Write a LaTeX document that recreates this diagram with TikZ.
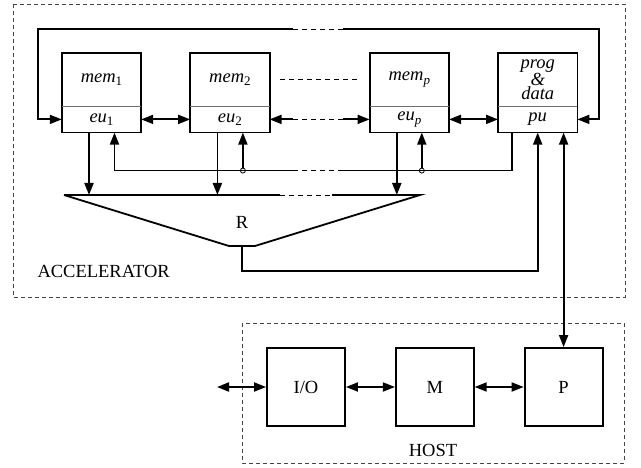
\documentclass[tikz,border=0pt]{standalone}
\usepackage{fontspec}
\setmainfont{Liberation Serif}
\usepackage{tikz}
\usetikzlibrary{arrows.meta,positioning,calc}
\definecolor{FrameGray}{RGB}{70,70,70}
\definecolor{SplitGray}{RGB}{110,110,110}

% small lowered index after an italic name
\newcommand{\lowidx}[1]{\raisebox{-0.4ex}{\fontsize{13}{13}\upshape\selectfont #1}}

\begin{document}
\begin{tikzpicture}[
  x=1pt,y=-1pt,
  font=\fontsize{18.5}{22}\selectfont,
  node distance=49pt,
  memcell/.style={
    minimum width=79pt,minimum height=53pt,inner sep=0pt,
    font=\fontsize{18.5}{13}\itshape\selectfont,align=center
  },
  eucell/.style={
    minimum width=79pt,minimum height=26pt,inner sep=0pt,
    font=\fontsize{18.5}{22}\itshape\selectfont
  },
  hostbox/.style={draw,line width=1.8pt,minimum size=78pt,inner sep=0pt},
  frame/.style={line width=1.8pt},
  split/.style={line width=0.8pt,SplitGray},
  wire/.style={line width=1.8pt},
  gapline/.style={line width=0.8pt,dash pattern=on 5pt off 4pt},
  region/.style={line width=0.8pt,FrameGray,dash pattern=on 4pt off 3pt},
  arr/.style={wire,-{Triangle[length=12pt,width=9pt]}},
  dblarr/.style={wire,{Triangle[length=12pt,width=9pt]}-{Triangle[length=12pt,width=9pt]}},
  tap/.style={circle,draw,line width=0.8pt,fill=white,inner sep=0pt,minimum size=5pt}
]
  \useasboundingbox (0,0) rectangle (641,468);

  % accelerator and host regions
  \draw[region] (13,4) rectangle (625,297);
  \node[anchor=west] (acclabel) at (34,271) {ACCELERATOR};
  \draw[region] (242,323) rectangle (624,463);
  \node (hostlabel) at (433,450) {HOST};

  % processing units
  \node[memcell] (mem1) at (101.5,79.5) {\textit{mem}\lowidx{1}};
  \node[eucell,below=0pt of mem1] (eu1) {\textit{eu}\lowidx{1}};
  \node[memcell,right=of mem1] (mem2) {\textit{mem}\lowidx{2}};
  \node[eucell,below=0pt of mem2] (eu2) {\textit{eu}\lowidx{2}};
  \node[memcell,right=100pt of mem2] (memp) {\textit{mem}\lowidx{\textit{p}}};
  \node[eucell,below=0pt of memp] (eup) {\textit{eu}\lowidx{\textit{p}}};
  \node[memcell,right=of memp] (prog) {prog\\\&\\data};
  \node[eucell,below=0pt of prog] (pu) {pu};
  \foreach \m/\e in {mem1/eu1,mem2/eu2,memp/eup,prog/pu}{
    \draw[frame] (\m.north west) rectangle (\e.south east);
    \draw[split] (\m.south west) -- (\m.south east);
  }

  % gaps in the rows
  \coordinate (gapA) at (293,29);
  \coordinate (gapB) at (343,29);
  \coordinate (loopL) at (38,29);
  \coordinate (loopR) at (599,29);

  % ring from pu back to eu1
  \draw[arr] (gapA) -- (loopL) -- (loopL |- eu1.west) -- (eu1.west);
  \draw[gapline] (gapA) -- (gapB);
  \draw[arr] (gapB) -- (loopR) -- (loopR |- pu.east) -- (pu.east);
  \draw[gapline] (280,79.5) -- (357,79.5);

  % neighbour links
  \draw[dblarr] (eu1) -- (eu2);
  \draw[arr] (gapA |- eu2.east) -- (eu2.east);
  \draw[gapline] (gapA |- eu2.east) -- (gapB |- eu2.east);
  \draw[arr] (gapB |- eup.west) -- (eup.west);
  \draw[dblarr] (eup) -- (pu);

  % broadcast from pu
  \coordinate (bcR) at ($(pu.south west)+(14,0)$);
  \coordinate (bcL) at ($(eu1.south)+(13,0)$);
  \node[tap] (tap2) at ($(eu2.south)+(13,38)$) {};
  \node[tap] (tapp) at ($(eup.south)+(12.5,38)$) {};
  \draw[wire] (bcR) -- (bcR |- tapp) -- (gapB |- tapp);
  \draw[gapline] (gapB |- tapp) -- (gapA |- tapp);
  \draw[arr] (gapA |- tapp) -- (bcL |- tapp) -- (bcL);
  \draw[arr] (tap2) -- (tap2 |- eu2.south);
  \draw[arr] (tapp) -- (tapp |- eup.south);

  % reduction tree
  \coordinate (busL) at (64,195);
  \coordinate (busR) at (420,195);
  \coordinate (redL) at (229,246);
  \coordinate (redR) at (255,246);
  \coordinate (redout) at (242,246);
  \draw[wire] (busL) -- (280,195);
  \draw[gapline] (280,195) -- (332,195);
  \draw[wire,line join=miter] (332,195) -- (busR) -- (redR) -- (redL) -- (busL);
  \node (red) at (242,222) {R};
  \foreach \u in {eu1,eu2,eup}{
    \coordinate (out-\u) at ($(\u.south)+(-12.5,0)$);
    \draw[arr] (out-\u) -- (out-\u |- busL);
  }
  \draw[arr] (redout) -- ++(0,25) -| (pu.south);

  % host
  \node[hostbox] (io) at (306,387) {I/O};
  \node[hostbox,right=of io] (mm) {M};
  \node[hostbox,right=of mm] (cpu) {P};
  \coordinate (ext) at (217,387);
  \draw[dblarr] (ext) -- (io);
  \draw[dblarr] (io) -- (mm);
  \draw[dblarr] (mm) -- (cpu);
  \draw[dblarr] (cpu.north |- pu.south) -- (cpu.north);
\end{tikzpicture}
\end{document}
